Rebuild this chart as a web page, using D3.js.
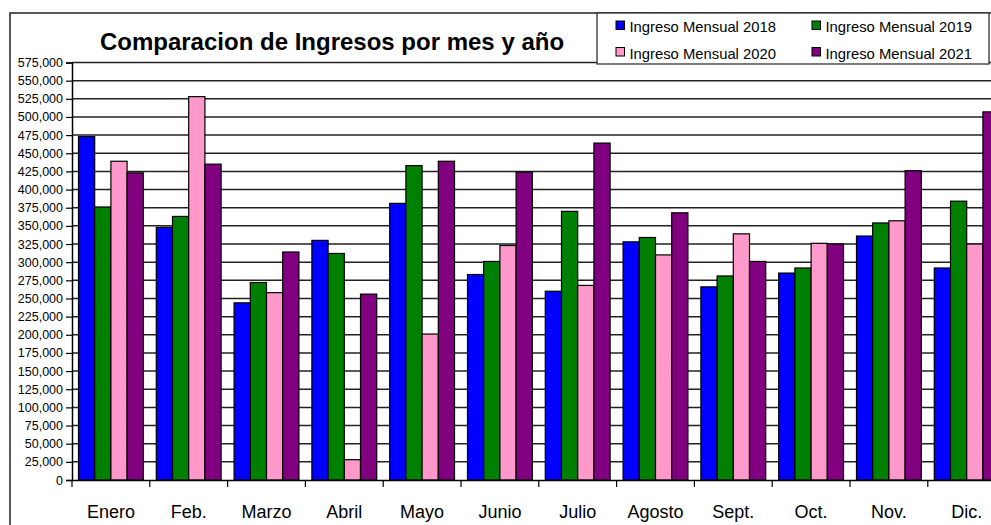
<!DOCTYPE html>
<html>
<head>
<meta charset="utf-8">
<script src="https://cdn.jsdelivr.net/npm/d3@7"></script>
<style>
  body { margin: 0; background: #fff; }
  svg { display: block; font-family: Arial, "Liberation Sans", sans-serif; }
</style>
</head>
<body>
<div id="chart"></div>
<script>
// data
var months = ["Enero", "Feb.", "Marzo", "Abril", "Mayo", "Junio", "Julio", "Agosto", "Sept.", "Oct.", "Nov.", "Dic."];
var seriesNames = ["Ingreso Mensual 2018", "Ingreso Mensual 2019", "Ingreso Mensual 2020", "Ingreso Mensual 2021"];
var ingresos2018 = [473000, 348000, 244000, 330000, 381000, 283000, 260000, 328000, 266000, 285000, 336000, 292000];
var ingresos2019 = [376000, 363000, 272000, 312000, 433000, 301000, 370000, 334000, 281000, 292000, 354000, 384000];
var ingresos2020 = [439000, 528000, 258000, 28000, 201000, 323000, 268000, 310000, 339000, 326000, 357000, 325000];
var ingresos2021 = [423000, 435000, 314000, 256000, 439000, 424000, 464000, 368000, 301000, 325000, 426000, 507000];
var yTicks = d3.range(0, 575001, 25000);
var colors = ["#0000ff", "#008000", "#ff99cc", "#800080"];

var allSeries = [ingresos2018, ingresos2019, ingresos2020, ingresos2021];

var width = 991, height = 525;
var plotLeft = 72, plotTop = 62.5, plotBottom = 480;
var band = 77.8;

var svg = d3.select("#chart").append("svg")
  .attr("width", width).attr("height", height);

// outer chart frame (runs off the right and bottom edges)
svg.append("rect")
  .attr("x", 10).attr("y", 13)
  .attr("width", 1100).attr("height", 600)
  .attr("fill", "#fff").attr("stroke", "#222").attr("stroke-width", 1.5);

var x = d3.scaleBand().domain(months).range([plotLeft, plotLeft + band * months.length]);
var x1 = d3.scaleBand().domain(d3.range(4)).range([0, x.bandwidth()]).paddingOuter(0.4);
var y = d3.scaleLinear().domain([0, 575000]).range([plotBottom, plotTop]);

// gridlines
svg.append("g").selectAll("line").data(yTicks.slice(1)).enter().append("line")
  .attr("x1", plotLeft).attr("x2", width)
  .attr("y1", function(d) { return y(d); })
  .attr("y2", function(d) { return y(d); })
  .attr("stroke", "#222").attr("stroke-width", 1.5);

// bars
var groups = svg.append("g").selectAll("g").data(months).enter().append("g")
  .attr("transform", function(d) { return "translate(" + x(d) + ",0)"; });

groups.selectAll("rect")
  .data(function(d, i) { return allSeries.map(function(s, k) { return { k: k, v: s[i] }; }); })
  .enter().append("rect")
  .attr("x", function(d) { return x1(d.k); })
  .attr("y", function(d) { return y(d.v); })
  .attr("width", x1.bandwidth())
  .attr("height", function(d) { return y(0) - y(d.v); })
  .attr("fill", function(d) { return colors[d.k]; })
  .attr("stroke", "#000").attr("stroke-width", 1.2);

// y axis
var yAxis = d3.axisLeft(y).tickValues(yTicks).tickSize(6).tickPadding(3)
  .tickFormat(d3.format(","));
var gy = svg.append("g").attr("transform", "translate(" + plotLeft + ",0)").call(yAxis);
gy.select(".domain").attr("stroke", "#000").attr("stroke-width", 1.5);
gy.selectAll(".tick line").attr("stroke", "#000").attr("stroke-width", 1.2);
gy.selectAll("text").attr("font-size", 12.5).attr("fill", "#000")
  .attr("font-family", "Arial, 'Liberation Sans', sans-serif");

// x axis
var xAxis = d3.axisBottom(x).tickSize(0).tickPadding(0).tickSizeOuter(0);
var gx = svg.append("g").attr("transform", "translate(0," + plotBottom + ")").call(xAxis);
gx.select(".domain").attr("stroke", "#000").attr("stroke-width", 1.5);
gx.selectAll("text").attr("font-size", 18).attr("fill", "#000").attr("dy", 0).attr("y", 38)
  .attr("font-family", "Arial, 'Liberation Sans', sans-serif");
svg.append("g").selectAll("line").data(months).enter().append("line")
  .attr("x1", function(d) { return x(d); }).attr("x2", function(d) { return x(d); })
  .attr("y1", plotBottom).attr("y2", plotBottom + 7)
  .attr("stroke", "#000").attr("stroke-width", 1.2);

// title
svg.append("text")
  .attr("x", 332).attr("y", 50)
  .attr("text-anchor", "middle")
  .attr("font-size", 24).attr("font-weight", "bold")
  .text("Comparacion de Ingresos por mes y año");

// legend
var legend = svg.append("g");
legend.append("rect")
  .attr("x", 597).attr("y", 13).attr("width", 392).attr("height", 51)
  .attr("fill", "#fff").attr("stroke", "#222").attr("stroke-width", 1.2);
var items = legend.selectAll("g.item").data(seriesNames).enter().append("g")
  .attr("transform", function(d, i) {
    return "translate(" + (i % 2 === 0 ? 616 : 812) + "," + (i < 2 ? 21 : 47.5) + ")";
  });
items.append("rect")
  .attr("width", 8.5).attr("height", 8.5)
  .attr("fill", function(d, i) { return colors[i]; })
  .attr("stroke", "#000").attr("stroke-width", 1);
items.append("text")
  .attr("x", 13.5).attr("y", 11)
  .attr("font-size", 14.8)
  .text(function(d) { return d; });
</script>
</body>
</html>
